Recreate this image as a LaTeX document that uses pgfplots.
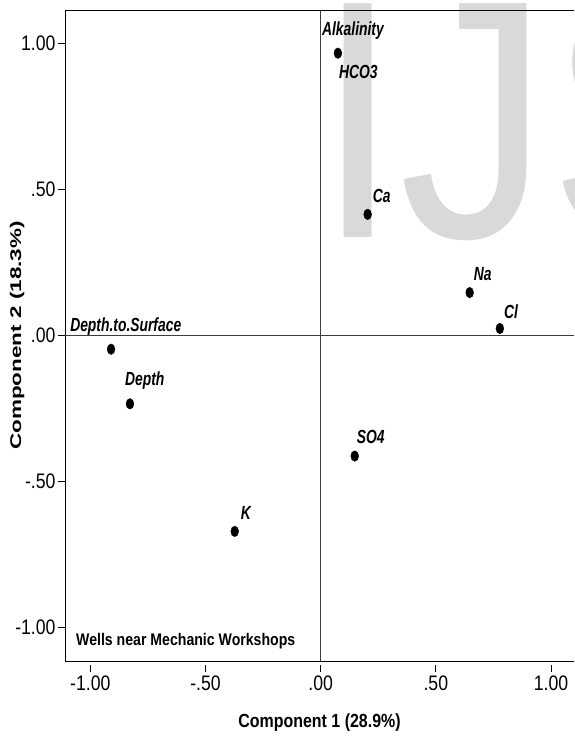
\documentclass[border=0pt]{standalone}
\usepackage{pgfplots}
\pgfplotsset{compat=1.18}
\usepackage{fontspec}
\setmainfont{Liberation Sans}
\newfontfamily\tickfont{Liberation Sans}[FakeStretch=0.84]
\newfontfamily\lblfont{Liberation Sans}[FakeStretch=0.73]
\newfontfamily\ylabfont{Liberation Sans}[FakeStretch=1.45]
\newfontfamily\wmfont{Liberation Sans}[FakeStretch=0.88]
\definecolor{wm}{RGB}{217,217,217}
\definecolor{refl}{RGB}{60,60,60}
\begin{document}
\begin{tikzpicture}[x=1pt,y=1pt]
\path[use as bounding box] (-65,-93) rectangle (509,661);
% watermark
\begin{scope}
\clip (-65,-93) rectangle (509,661);
\node[anchor=base west, inner sep=0pt, text=wm, font=\wmfont\fontsize{340}{340}\selectfont] at (251.5,423) {IJS};
\end{scope}
\begin{axis}[
  at={(0,0)}, anchor=south west,
  scale only axis, width=509pt, height=651pt,
  xmin=-1.11, xmax=1.10, ymin=-1.115, ymax=1.115,
  axis x line*=bottom, axis y line*=left,
  axis line style={black, line width=0.9pt},
  tick align=outside,
  major tick length=7pt,
  xtick={-1,-0.5,0,0.5,1},
  xticklabels={-1.00,-.50,.00,.50,1.00},
  ytick={-1,-0.5,0,0.5,1},
  yticklabels={-1.00,-.50,.00,.50,1.00},
  tick style={black, line width=0.9pt},
  xtick style={yshift=-4pt},
  ticklabel style={font=\tickfont\fontsize{21}{21}\selectfont},
  xticklabel style={yshift=-4pt},
  yticklabel style={xshift=1pt},
  xlabel={\tickfont\fontsize{19}{19}\selectfont\bfseries Component 1 (28.9\%)},
  xlabel style={yshift=-16pt},
  ylabel={\ylabfont\fontsize{15.5}{15.5}\selectfont\bfseries Component 2 (18.3\%)},
  ylabel style={yshift=-16pt},
  clip=false,
]
\draw[refl, line width=0.8pt] (axis cs:0,-1.115) -- (axis cs:0,1.115);
\draw[refl, line width=0.8pt] (axis cs:-1.11,0) -- (axis cs:1.10,0);
\draw[black, line width=0.9pt] (axis cs:-1.11,1.115) -- (axis cs:1.10,1.115);
\addplot[only marks, mark=*, mark size=5.3pt, mark options={xscale=0.74, fill=black, draw=black}] coordinates {
(0.075,0.967) (0.204,0.415) (0.647,0.147) (0.778,0.024) (0.148,-0.413) (-0.373,-0.671) (-0.910,-0.047) (-0.828,-0.234)
};
\tikzset{pl/.style={font=\lblfont\fontsize{19}{19}\selectfont\bfseries\itshape, inner sep=0pt}}
\node[pl, anchor=south west] at ([xshift=-16pt,yshift=14pt]axis cs:0.075,0.967) {Alkalinity};
\node[pl, anchor=north west] at ([xshift=1pt,yshift=-12pt]axis cs:0.075,0.967) {HCO3};
\node[pl, anchor=south west] at ([xshift=5pt,yshift=11pt]axis cs:0.204,0.415) {Ca};
\node[pl, anchor=south west] at ([xshift=4pt,yshift=12pt]axis cs:0.647,0.147) {Na};
\node[pl, anchor=south west] at ([xshift=4pt,yshift=10pt]axis cs:0.778,0.024) {Cl};
\node[pl, anchor=south west] at ([xshift=2pt,yshift=12pt]axis cs:0.148,-0.413) {SO4};
\node[pl, anchor=south west] at ([xshift=6pt,yshift=12pt]axis cs:-0.373,-0.671) {K};
\node[pl, anchor=south west] at ([xshift=-41pt,yshift=14pt]axis cs:-0.910,-0.047) {Depth.to.Surface};
\node[pl, anchor=south west] at ([xshift=-5pt,yshift=14pt]axis cs:-0.828,-0.234) {Depth};
\node[anchor=south west, inner sep=0pt, font=\tickfont\fontsize{16.8}{16.8}\selectfont\bfseries] at ([xshift=11pt,yshift=12pt]axis cs:-1.11,-1.115) {Wells near Mechanic Workshops};
\end{axis}
\end{tikzpicture}
\end{document}
